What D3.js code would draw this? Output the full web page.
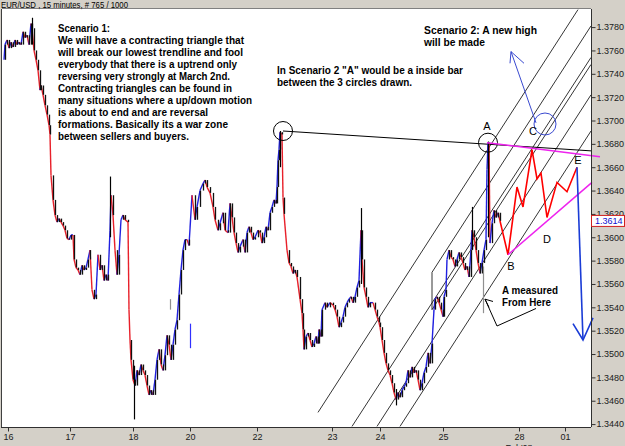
<!DOCTYPE html>
<html>
<head>
<meta charset="utf-8">
<title>EUR/USD 15 minutes</title>
<style>
  body { margin: 0; background: #d4d0c8; }
  svg { display: block; }
  text { font-family: "Liberation Sans", Arial, sans-serif; }
</style>
</head>
<body>
<script src="https://d3js.org/d3.v7.min.js"></script>
<script>

var W = 625, H = 446;
var box = {left: 2, right: 591, top: 9, bottom: 427};

// axis ticks
var priceTicks = [1.3440, 1.3460, 1.3480, 1.3500, 1.3520, 1.3540, 1.3560, 1.3580, 1.3600,
                  1.3620, 1.3640, 1.3660, 1.3680, 1.3700, 1.3720, 1.3740, 1.3760, 1.3780];
var dayTicks  = [8, 70, 133, 190, 257, 332, 380, 443, 519, 565];
var dayLabels = ["16", "17", "18", "20", "22", "23", "24", "25", "28", "01"];
var lastPrice = 1.3614;

// closes, [bar position, price]
var closes = [
  [4,1.3752],[5,1.3765],[7,1.3769],[9,1.3762],[11,1.3767],[13,1.3763],[15,1.3769],[17,1.3765],
  [19,1.3767],[21,1.3765],[23,1.3776],[25,1.3771],[27,1.3773],[29,1.3765],[31,1.3783],[32,1.3779],
  [34,1.3760],[36,1.3752],[38,1.3743],[40,1.3726],[41,1.3730],[43,1.3722],[45,1.3713],[47,1.3705],
  [49,1.3696],[50,1.3688],[51,1.3653],[53,1.3632],[55,1.3619],[57,1.3613],[59,1.3616],[61,1.3613],
  [63,1.3610],[65,1.3606],[67,1.3599],[69,1.3598],[71,1.3602],[73,1.3602],[74,1.3581],[76,1.3574],
  [78,1.3572],[80,1.3568],[82,1.3576],[84,1.3572],[86,1.3574],[88,1.3581],[90,1.3589],[92,1.3555],
  [94,1.3547],[96,1.3551],[98,1.3585],[100,1.3572],[102,1.3576],[104,1.3563],[106,1.3568],[108,1.3563],
  [110,1.3606],[111,1.3636],[113,1.3619],[115,1.3589],[117,1.3568],[119,1.3585],[121,1.3615],[123,1.3619],
  [125,1.3615],[128,1.3613],[129,1.3538],[130,1.3512],[131,1.3495],[133,1.3478],[135,1.3473],[137,1.3486],
  [139,1.3482],[141,1.3491],[143,1.3486],[145,1.3482],[147,1.3473],[149,1.3465],[151,1.3469],[153,1.3465],
  [155,1.3478],[157,1.3495],[159,1.3504],[161,1.3491],[163,1.3486],[165,1.3499],[167,1.3516],[169,1.3508],
  [171,1.3495],[173,1.3508],[175,1.3521],[177,1.3529],[179,1.3551],[181,1.3572],[183,1.3589],[185,1.3598],
  [187,1.3598],[189,1.3593],[192,1.3636],[195,1.3615],[197,1.3626],[200,1.3640],[203,1.3646],[205,1.3649],
  [207,1.3643],[210,1.3638],[213,1.3626],[215,1.3615],[218,1.3606],[220,1.3612],[223,1.3621],[225,1.3606],
  [228,1.3604],[230,1.3629],[232,1.3617],[234,1.3604],[236,1.3595],[238,1.3587],[240,1.3592],[243,1.3598],
  [245,1.3587],[247,1.3604],[249,1.3609],[251,1.3604],[253,1.3598],[255,1.3600],[258,1.3606],[260,1.3604],
  [262,1.3595],[264,1.3600],[266,1.3609],[268,1.3606],[270,1.3621],[272,1.3626],[274,1.3632],[276,1.3629],
  [277,1.3643],[278,1.3666],[279,1.3675],[280,1.3690],[282,1.3688],[283,1.3634],[284,1.3620],[287,1.3589],
  [289,1.3578],[291,1.3575],[293,1.3569],[295,1.3572],[297,1.3566],[300,1.3547],[302,1.3535],[303,1.3521],
  [304,1.3504],[306,1.3515],[308,1.3518],[310,1.3512],[312,1.3506],[314,1.3509],[316,1.3515],[318,1.3509],
  [319,1.3521],[321,1.3515],[322,1.3538],[325,1.3544],[327,1.3540],[330,1.3544],[333,1.3542],[335,1.3538],
  [337,1.3532],[339,1.3523],[341,1.3527],[343,1.3532],[345,1.3540],[347,1.3544],[349,1.3547],[351,1.3549],
  [353,1.3544],[355,1.3549],[357,1.3557],[359,1.3563],[361,1.3606],[362,1.3581],[364,1.3557],[366,1.3549],
  [368,1.3540],[370,1.3544],[373,1.3544],[375,1.3538],[377,1.3532],[379,1.3527],[380,1.3523],[382,1.3512],
  [384,1.3501],[386,1.3492],[388,1.3486],[390,1.3482],[392,1.3475],[394,1.3467],[396,1.3461],[398,1.3467],
  [400,1.3463],[402,1.3469],[404,1.3472],[406,1.3475],[408,1.3486],[410,1.3480],[412,1.3489],[414,1.3484],
  [416,1.3486],[418,1.3478],[420,1.3469],[422,1.3475],[424,1.3484],[426,1.3489],[428,1.3501],[430,1.3492],
  [432,1.3509],[434,1.3538],[435,1.3547],[437,1.3549],[439,1.3544],[441,1.3538],[443,1.3532],[444,1.3549],
  [446,1.3555],[447,1.3581],[449,1.3589],[451,1.3583],[453,1.3581],[455,1.3575],[457,1.3581],[459,1.3587],
  [461,1.3583],[463,1.3578],[465,1.3572],[467,1.3575],[469,1.3566],[471,1.3589],[472,1.3606],[474,1.3600],
  [476,1.3589],[478,1.3578],[480,1.3569],[482,1.3578],[484,1.3589],[486,1.3598],[487,1.3658],[488,1.3681],
  [489,1.3680],[490,1.3595],[492,1.3612],[494,1.3623],[496,1.3617],[498,1.3621],[500,1.3614]
];

// long single bars, [bar position, high, low]
var spikes = [
  [32,1.3788,1.3765],[110,1.3652,1.3600],[134,1.3490,1.3444],[280,1.3691,1.3660],
  [361,1.3625,1.3560],[396,1.3470,1.3456],[472,1.3626,1.3590],[488,1.3682,1.3600]
];
var greyBars = [[483,1.3575,1.3535],[170,1.3547,1.3538]];
var lonelyBar = [[190,1.3526,1.3505]];

// drawn objects
var projection = [[500,1.3614],[508,1.3585],[517,1.3643],[523,1.3626],[532,1.3675],[537,1.3650],
                  [541,1.3655],[547,1.3617],[557,1.3647],[567,1.3639],[577,1.3660]];
var dropLine = [[577,1.3660],[583,1.3512]];
var dropHead = [[573,1.3526],[583,1.3512],[593,1.3531]];
var upLine = [[536,1.3698],[511,1.3759]];
var upHead = [[510,1.3749],[511,1.3759],[524,1.3749]];
var topLine = [[283,1.3691],[591,1.3674]];
var upperTri = [[487,1.3681],[600,1.3669]];
var lowerTri = [[508,1.3585],[592,1.3647]];
var measureArrow = [[485,1.3547],[497,1.3524],[536,1.3539]];
var measureHead = [[489,1.3540],[485,1.3547],[493,1.3545]];
var circles = [[283,1.3691],[488,1.3681]];
var blueCircle = [545,1.3697];
// channel lines [bar1, price1, bar2, price2]
var channel = [
  [318,1.3450,578,1.3795],
  [432,1.3570,591,1.3781],
  [432,1.3538,591,1.3748],
  [352,1.3438,591,1.3754],
  [377,1.3438,591,1.3722],
  [400,1.3438,591,1.3691]
];
var waveLabels = [["A",487,1.3692],["B",511,1.3572],["C",533,1.3688],["D",547,1.3595],["E",578,1.3663]];

var scenario1 = ["Scenario 1:",
  "We will have a contracting triangle that",
  "will break our lowest trendline and fool",
  "everybody that there is a uptrend only",
  "reversing very strongly at March 2nd.",
  "Contracting triangles can be found in",
  "many situations where a up/down motion",
  "is about to end and are reversal",
  "formations.  Basically its a war zone",
  "between sellers and buyers."];
var scenario1Len = [52,186,185,179,172,174,194,150,170,131];
var scenario2 = ["Scenario 2:  A new high", "will be made"];
var scenario2Len = [113, 61];
var insideBar = ["In Scenario 2 \"A\" would be a inside bar", "between the 3 circles drawn."];
var insideBarLen = [186, 135];
var measured = ["A measured", "From Here"];
var measuredLen = [56, 49];

var x = d3.scaleLinear().domain([2, 591]).range([box.left, box.right]);
var y = d3.scaleLinear().domain([1.34375, 1.37955]).range([box.bottom, box.top]);

var svg = d3.select("body").append("svg").attr("width", W).attr("height", H);
svg.append("rect").attr("width", W).attr("height", H).attr("fill", "#d4d0c8");
svg.append("rect")
  .attr("x", box.left).attr("y", box.top)
  .attr("width", box.right - box.left).attr("height", box.bottom - box.top)
  .attr("fill", "#fff");

svg.append("defs").append("clipPath").attr("id", "clip")
  .append("rect")
  .attr("x", box.left).attr("y", box.top)
  .attr("width", box.right - box.left).attr("height", box.bottom - box.top);

var g = svg.append("g").attr("clip-path", "url(#clip)");
var line = d3.line().x(function (d) { return x(d[0]); }).y(function (d) { return y(d[1]); });

// channel
g.selectAll("line.ch").data(channel).enter().append("line")
  .attr("x1", function (d) { return x(d[0]); }).attr("y1", function (d) { return y(d[1]); })
  .attr("x2", function (d) { return x(d[2]); }).attr("y2", function (d) { return y(d[3]); })
  .attr("stroke", "#000").attr("stroke-width", 0.8);
// left edge of the channel
g.append("line")
  .attr("x1", x(channel[1][0])).attr("x2", x(channel[2][0]))
  .attr("y1", y(channel[1][1])).attr("y2", y(channel[2][1]))
  .attr("stroke", "#000").attr("stroke-width", 0.8);

g.append("path").datum(topLine).attr("d", line)
  .attr("fill", "none").attr("stroke", "#000").attr("stroke-width", 1);

// price: coloured close line, black bars on top
var pairs = d3.pairs(closes);
g.selectAll("line.seg").data(pairs).enter().append("line")
  .attr("x1", function (p) { return x(p[0][0]); }).attr("y1", function (p) { return y(p[0][1]); })
  .attr("x2", function (p) { return x(p[1][0]); }).attr("y2", function (p) { return y(p[1][1]); })
  .attr("stroke", function (p) { return p[1][1] < p[0][1] ? "#e8202a" : "#2020e0"; })
  .attr("stroke-width", 1.4);

g.selectAll("line.bar").data(pairs.filter(function (p) { return Math.abs(p[1][1] - p[0][1]) < 0.0025; }))
  .enter().append("line")
  .attr("x1", function (p) { return x(p[1][0]) + 0.5; }).attr("x2", function (p) { return x(p[1][0]) + 0.5; })
  .attr("y1", function (p) { return y(p[0][1]); }).attr("y2", function (p) { return y(p[1][1]); })
  .attr("stroke", "#111").attr("stroke-width", 1.3);

function bars(data, colour) {
  g.append("g").selectAll("line").data(data).enter().append("line")
    .attr("x1", function (d) { return x(d[0]) + 0.5; }).attr("x2", function (d) { return x(d[0]) + 0.5; })
    .attr("y1", function (d) { return y(d[1]); }).attr("y2", function (d) { return y(d[2]); })
    .attr("stroke", colour).attr("stroke-width", 1.2);
}
bars(spikes, "#000");
bars(greyBars, "#909090");
bars(lonelyBar, "#3030ff");

// scenario 1 projection
g.append("path").datum(projection).attr("d", line)
  .attr("fill", "none").attr("stroke", "#ff0000").attr("stroke-width", 1.6);

// triangle borders (upper one runs over the axis)
svg.append("path").datum(upperTri).attr("d", line)
  .attr("fill", "none").attr("stroke", "#ee22ee").attr("stroke-width", 1.5);
svg.append("path").datum(lowerTri).attr("d", line)
  .attr("fill", "none").attr("stroke", "#ee22ee").attr("stroke-width", 1.5);

// blue arrows
[dropLine, dropHead].forEach(function (d) {
  svg.append("path").datum(d).attr("d", line)
    .attr("fill", "none").attr("stroke", "#1a3cd6").attr("stroke-width", 1.6);
});
[upLine, upHead].forEach(function (d) {
  svg.append("path").datum(d).attr("d", line)
    .attr("fill", "none").attr("stroke", "#3a4ad0").attr("stroke-width", 1);
});
g.append("ellipse")
  .attr("cx", x(blueCircle[0])).attr("cy", y(blueCircle[1]))
  .attr("rx", 11).attr("ry", 11)
  .attr("fill", "none").attr("stroke", "#3a4ad0").attr("stroke-width", 1);

g.selectAll("circle.mark").data(circles).enter().append("circle")
  .attr("cx", function (d) { return x(d[0]); }).attr("cy", function (d) { return y(d[1]); })
  .attr("r", 9.5).attr("fill", "none").attr("stroke", "#000").attr("stroke-width", 1);

[measureArrow, measureHead].forEach(function (d) {
  g.append("path").datum(d).attr("d", line)
    .attr("fill", "none").attr("stroke", "#000").attr("stroke-width", 1);
});

// plot border
svg.append("line").attr("x1", box.left - 0.5).attr("x2", box.left - 0.5)
  .attr("y1", box.top).attr("y2", box.bottom).attr("stroke", "#404040");
svg.append("line").attr("x1", box.left).attr("x2", box.right)
  .attr("y1", box.top - 0.5).attr("y2", box.top - 0.5).attr("stroke", "#808080");

// axes
var yAxis = d3.axisRight(y).tickValues(priceTicks).tickSize(4).tickSizeOuter(0).tickPadding(1)
  .tickFormat(d3.format(".4f"));
var ya = svg.append("g").attr("transform", "translate(" + (box.right + 0.5) + ",0)").call(yAxis);
ya.select(".domain").attr("stroke", "#303030").attr("d", "M0," + box.top + "V" + box.bottom);
ya.selectAll("line").attr("stroke", "#303030");
ya.selectAll("text").attr("font-size", 9).attr("fill", "#202020")
  .attr("font-family", "'Liberation Sans', Arial, sans-serif");

var xAxis = d3.axisBottom(x).tickValues(dayTicks).tickSize(4).tickSizeOuter(0).tickPadding(2)
  .tickFormat(function (d, i) { return dayLabels[i]; });
var xa = svg.append("g").attr("transform", "translate(0," + (box.bottom + 0.5) + ")").call(xAxis);
xa.select(".domain").attr("stroke", "#303030").attr("d", "M" + (box.left - 1) + ",0H" + box.right);
xa.selectAll("line").attr("stroke", "#303030");
xa.selectAll("text").attr("font-size", 9).attr("fill", "#202020")
  .attr("font-family", "'Liberation Sans', Arial, sans-serif");

// month label, only its top shows at the bottom edge
svg.append("text").attr("x", x(519)).attr("y", 451).attr("text-anchor", "middle")
  .attr("font-size", 9).attr("fill", "#202020").text("Feb'08");

// last price tag
svg.append("rect").attr("x", box.right + 0.5).attr("y", y(lastPrice) - 5.5)
  .attr("width", 33).attr("height", 11)
  .attr("fill", "#fff").attr("stroke", "#d02020").attr("stroke-width", 1);
svg.append("text").attr("x", box.right + 4).attr("y", y(lastPrice) + 3.5)
  .attr("font-size", 9).attr("fill", "#1010d0").text(d3.format(".4f")(lastPrice));

// title
svg.append("text").attr("x", 1).attr("y", 7.5).attr("font-size", 9)
  .attr("textLength", 127).attr("lengthAdjust", "spacingAndGlyphs")
  .text("EUR/USD , 15 minutes, # 765 / 1000");

function block(lines, lens, x0, y0) {
  svg.append("g").selectAll("text").data(lines).enter().append("text")
    .attr("x", x0).attr("y", function (d, i) { return y0 + i * 12; })
    .attr("font-size", 11).attr("font-weight", "bold")
    .attr("textLength", function (d, i) { return lens[i]; })
    .attr("lengthAdjust", "spacingAndGlyphs")
    .text(function (d) { return d; });
}
block(scenario1, scenario1Len, 58, 32);
block(scenario2, scenario2Len, 424, 34);
block(insideBar, insideBarLen, 277, 74);
block(measured, measuredLen, 502, 294);

svg.append("g").selectAll("text").data(waveLabels).enter().append("text")
  .attr("x", function (d) { return x(d[1]); }).attr("y", function (d) { return y(d[2]); })
  .attr("text-anchor", "middle").attr("font-size", 11)
  .text(function (d) { return d[0]; });

</script>
</body>
</html>
